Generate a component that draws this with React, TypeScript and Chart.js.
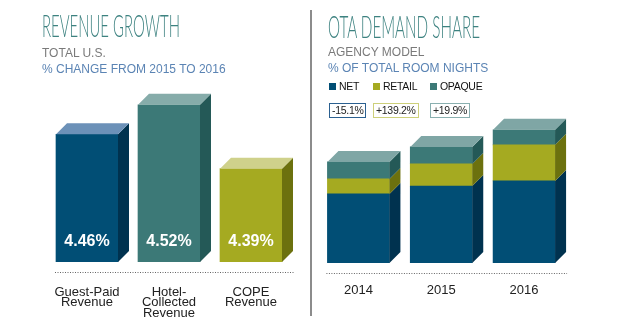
import React, { useEffect, useLayoutEffect, useRef } from 'react';
import { Chart, registerables } from 'chart.js';
Chart.register(...registerables);

// ---------- data ----------
const growthCategories = [['Guest-Paid', 'Revenue'], ['Hotel-', 'Collected', 'Revenue'], ['COPE', 'Revenue']];
const growthValues = [4.46, 4.52, 4.39];
const growthValueLabels = ['4.46%', '4.52%', '4.39%'];

const shareYears = ['2014', '2015', '2016'];
const shareSeries = ['NET', 'RETAIL', 'OPAQUE'];
const netShare = [20.3, 22.6, 24.1];
const retailShare = [4.4, 6.5, 10.6];
const opaqueShare = [5.0, 5.0, 4.4];
const shareChanges = ['-15.1%', '+139.2%', '+19.9%'];

// ---------- styles ----------
const BLUE = { front: '#014e75', side: '#00324f', top: '#6c91b8', box: '#2b6090' };
const TEAL = { front: '#3c7977', side: '#245957', top: '#86acaa', box: '#8ab0b0' };
const OLIVE = { front: '#a5aa21', side: '#6c710e', top: '#cfd18b', box: '#cdd07a' };
const FONT = "'Liberation Sans', Arial, sans-serif";
const DEPTH = 11;

type Box3DCfg = {
  side: (di: number, i: number) => string;
  top: (di: number, i: number) => string;
  valueLabels?: string[];
};

function makeBox3D(cfg: Box3DCfg) {
  return {
    id: 'box3d',
    afterDatasetsDraw(chart: any) {
      const ctx = chart.ctx as CanvasRenderingContext2D;
      const d = DEPTH;
      const n = chart.data.datasets.length;
      const bottom = chart.chartArea.bottom;
      let minL = Infinity, maxR = -Infinity;
      ctx.save();
      for (let di = 0; di < n; di++) {
        const meta = chart.getDatasetMeta(di);
        meta.data.forEach((bar: any, i: number) => {
          const p = bar.getProps(['x', 'y', 'base', 'width'], true);
          const x = p.x, y = p.y, width = p.width;
          const base = Math.min(p.base, bottom);
          const l = x - width / 2;
          const r = x + width / 2;
          minL = Math.min(minL, l);
          maxR = Math.max(maxR, r);
          ctx.fillStyle = cfg.side(di, i);
          ctx.beginPath();
          ctx.moveTo(r, y);
          ctx.lineTo(r + d, y - d);
          ctx.lineTo(r + d, base - d);
          ctx.lineTo(r, base);
          ctx.closePath();
          ctx.fill();
          if (di === n - 1) {
            ctx.fillStyle = cfg.top(di, i);
            ctx.beginPath();
            ctx.moveTo(l, y);
            ctx.lineTo(l + d, y - d);
            ctx.lineTo(r + d, y - d);
            ctx.lineTo(r, y);
            ctx.closePath();
            ctx.fill();
          }
          if (cfg.valueLabels && di === 0) {
            ctx.fillStyle = '#ffffff';
            ctx.font = `bold 16px ${FONT}`;
            ctx.textAlign = 'center';
            ctx.textBaseline = 'middle';
            ctx.fillText(cfg.valueLabels[i], x, base - 20);
          }
        });
      }
      // dotted baseline
      const yLine = bottom + 10.5;
      ctx.strokeStyle = '#666';
      ctx.lineWidth = 1;
      ctx.setLineDash([1, 1.5]);
      ctx.beginPath();
      ctx.moveTo(minL - 1, yLine);
      ctx.lineTo(maxR + d + 1, yLine);
      ctx.stroke();
      ctx.restore();
    },
  };
}

function xScale(stacked: boolean, padding: number, size: number, lineHeight: number, height: number) {
  return {
    stacked,
    grid: { display: false, drawTicks: false },
    border: { display: false },
    ticks: {
      padding,
      color: '#222',
      autoSkip: false,
      maxRotation: 0,
      font: { family: FONT, size, lineHeight },
    },
    afterFit: (s: any) => {
      s.height = height;
    },
  };
}

function GrowthChart() {
  const ref = useRef<HTMLCanvasElement>(null);
  useEffect(() => {
    const fronts = [BLUE.front, TEAL.front, OLIVE.front];
    const sides = [BLUE.side, TEAL.side, OLIVE.side];
    const tops = [BLUE.top, TEAL.top, OLIVE.top];
    const chart = new Chart(ref.current!, {
      type: 'bar',
      data: {
        labels: growthCategories as any,
        datasets: [
          {
            data: growthValues,
            backgroundColor: fronts,
            borderWidth: 0,
            barThickness: 62,
          },
        ],
      },
      options: {
        animation: false,
        responsive: false,
        layout: { padding: { left: 46, right: 18, top: 90, bottom: 0 } },
        plugins: { legend: { display: false }, tooltip: { enabled: false } },
        scales: {
          x: xScale(false, 25, 13, 0.8, 68) as any,
          y: { display: false, beginAtZero: false, min: 4.2, max: 4.55 },
        },
      },
      plugins: [
        makeBox3D({
          side: (_d, i) => sides[i],
          top: (_d, i) => tops[i],
          valueLabels: growthValueLabels,
        }),
      ],
    });
    return () => chart.destroy();
  }, []);
  return <canvas ref={ref} width={310} height={330} style={{ position: 'absolute', left: 0, top: 0, width: 310, height: 330 }} />;
}

const shareStyles = [BLUE, OLIVE, TEAL];
const shareData = [netShare, retailShare, opaqueShare];

function ShareChart() {
  const ref = useRef<HTMLCanvasElement>(null);
  useEffect(() => {
    const chart = new Chart(ref.current!, {
      type: 'bar',
      data: {
        labels: shareYears,
        datasets: shareSeries.map((name, di) => ({
          label: name,
          data: shareData[di],
          backgroundColor: shareStyles[di].front,
          borderWidth: 0,
          barThickness: 62,
        })),
      },
      options: {
        animation: false,
        responsive: false,
        layout: { padding: { left: 7, right: 54.5, top: 120, bottom: 0 } },
        plugins: { legend: { display: false }, tooltip: { enabled: false } },
        scales: {
          x: xScale(true, 22, 13, 0.86, 67) as any,
          y: { display: false, stacked: true, min: 0, max: 42 },
        },
      },
      plugins: [
        makeBox3D({
          side: (di) => shareStyles[di].side,
          top: () => '#7fa6a5',
        }),
      ],
    });
    return () => chart.destroy();
  }, []);
  return <canvas ref={ref} width={310} height={330} style={{ position: 'absolute', left: 310, top: 0, width: 310, height: 330 }} />;
}

function CondensedTitle({ text, left, top, width }: { text: string; left: number; top: number; width: number }) {
  const ref = useRef<HTMLSpanElement>(null);
  useLayoutEffect(() => {
    const fit = () => {
      const el = ref.current;
      if (!el) return;
      el.style.transform = 'none';
      const w = el.getBoundingClientRect().width;
      if (w > 0) el.style.transform = `scaleX(${width / w})`;
    };
    fit();
    (document as any).fonts?.ready?.then(fit);
  }, [text, width]);
  return (
    <span
      ref={ref}
      style={{
        position: 'absolute',
        left,
        top,
        whiteSpace: 'nowrap',
        transformOrigin: '0 0',
        fontFamily: 'Lato, sans-serif',
        fontWeight: 300,
        fontSize: 32,
        lineHeight: '32px',
        color: '#3d8280',
      }}
    >
      {text}
    </span>
  );
}

function SubLine({ text, left, top, color }: { text: string; left: number; top: number; color: string }) {
  return (
    <div style={{ position: 'absolute', left, top, fontFamily: FONT, fontSize: 12, lineHeight: '12px', color, whiteSpace: 'nowrap' }}>
      {text}
    </div>
  );
}

const legendCols = [44, 57, 60];

export default function App() {
  return (
    <div
      style={{
        position: 'absolute',
        left: 0,
        top: 0,
        width: 620,
        height: 330,
        background: '#fff',
        overflow: 'hidden',
        fontFamily: FONT,
      }}
    >
      <GrowthChart />
      <ShareChart />
      <CondensedTitle text="REVENUE GROWTH" left={42} top={9} width={138} />
      <SubLine text="TOTAL U.S." left={42} top={47} color="#7a7a7a" />
      <SubLine text="% CHANGE FROM 2015 TO 2016" left={42} top={62.5} color="#5b84b4" />

      <div style={{ position: 'absolute', left: 310, top: 10, width: 2, height: 306, background: '#8c8c8c' }} />

      <CondensedTitle text="OTA DEMAND SHARE" left={328} top={10} width={152} />
      <SubLine text="AGENCY MODEL" left={328} top={46} color="#7a7a7a" />
      <SubLine text="% OF TOTAL ROOM NIGHTS" left={328} top={62} color="#5b84b4" />

      <div style={{ position: 'absolute', left: 329, top: 81, display: 'flex' }}>
        {shareSeries.map((name, i) => (
          <div key={name} style={{ width: legendCols[i], display: 'flex', alignItems: 'center', height: 11 }}>
            <span style={{ display: 'inline-block', width: 7, height: 7, background: shareStyles[i].front, marginRight: 3 }} />
            <span style={{ fontSize: 10.5, lineHeight: '11px', letterSpacing: -0.3, color: '#111' }}>{name}</span>
          </div>
        ))}
      </div>

      <div style={{ position: 'absolute', left: 329, top: 100, display: 'flex' }}>
        {shareChanges.map((chg, i) => (
          <div key={chg} style={{ width: legendCols[i] }}>
            <span
              style={{
                display: 'inline-block',
                border: `1.5px solid ${shareStyles[i].box}`,
                padding: '0 2px',
                height: 13,
                fontSize: 10.5,
                lineHeight: '13px',
                letterSpacing: -0.3,
                color: '#222',
              }}
            >
              {chg}
            </span>
          </div>
        ))}
      </div>
    </div>
  );
}
